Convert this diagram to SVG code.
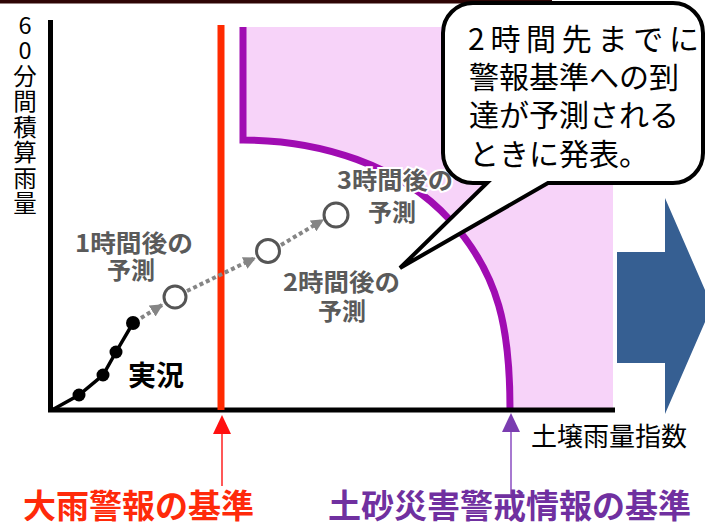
<svg xmlns="http://www.w3.org/2000/svg" width="705" height="522" viewBox="0 0 705 522">
<style>
text{font-family:"Noto Sans CJK JP","Noto Sans",sans-serif}
.gl{font-size:24px;font-weight:bold;fill:#5a5a5a}
.dot{stroke:#858585;stroke-width:4;stroke-dasharray:4 3;fill:none}
.oc{fill:#fff;stroke:#555;stroke-width:3}
.bd{fill:#000}
.co{font-size:30px;fill:#000}
</style>
<defs>
<marker id="ga" viewBox="0 0 10 10" refX="9" refY="5" markerWidth="3.2" markerHeight="3.2" orient="auto" markerUnits="strokeWidth"><path d="M0,0L10,5L0,10Z" fill="#858585"/></marker>
</defs>
<rect width="705" height="522" fill="#fff"/>
<rect x="0" y="0" width="552" height="3.5" fill="#2e0505"/>
<g id="pink-zone">
<path d="M243,27H613V408H510C510,330 500,275 450,220C400,165 320,140 243,140Z" fill="#f7d3f9"/>
<path d="M243,27V140C320,140 400,165 450,220C500,275 510,330 510,409" fill="none" stroke="#a00cb2" stroke-width="7"/>
</g>
<g id="axes">
<line x1="50.5" y1="20" x2="50.5" y2="412" stroke="#000" stroke-width="5"/>
<line x1="48" y1="410" x2="615" y2="410" stroke="#000" stroke-width="5"/>
</g>
<g id="heavy-rain-line">
<line x1="221" y1="25" x2="221" y2="410" stroke="#ff2a00" stroke-width="7"/>
</g>
<g id="y-label">
<text x="25" y="13" font-size="23.5" fill="#000" writing-mode="vertical-rl" letter-spacing="2" style="text-orientation:upright">60分間積算雨量</text>
</g>
<g id="observed">
<polyline points="52,410 79,395 103,375 116,352 133,323" fill="none" stroke="#000" stroke-width="3.5"/>
<circle class="bd" cx="79" cy="395" r="6.5"/>
<circle class="bd" cx="103" cy="375" r="6.5"/>
<circle class="bd" cx="116" cy="352" r="6.5"/>
<circle class="bd" cx="133" cy="323" r="7"/>
<text x="128" y="386" font-size="28" font-weight="bold" fill="#000">実況</text>
</g>
<g id="connectors">
<line class="dot" x1="141" y1="318" x2="162" y2="305" marker-end="url(#ga)"/>
<line class="dot" x1="187" y1="291" x2="255" y2="258" marker-end="url(#ga)"/>
<line class="dot" x1="281" y1="245" x2="323" y2="220" marker-end="url(#ga)"/>
</g>
<g id="forecast-1h">
<circle class="oc" cx="175" cy="297" r="11"/>
<text class="gl"><tspan x="75" y="252" textLength="118" lengthAdjust="spacingAndGlyphs">1時間後の</tspan><tspan x="107" y="279">予測</tspan></text>
</g>
<g id="forecast-2h">
<circle class="oc" cx="268" cy="251" r="11.5"/>
<text class="gl"><tspan x="283" y="291" textLength="117" lengthAdjust="spacingAndGlyphs">2時間後の</tspan><tspan x="318" y="320">予測</tspan></text>
</g>
<g id="forecast-3h">
<circle class="oc" cx="336" cy="215" r="12"/>
<text class="gl" stroke="#fff" stroke-width="4" paint-order="stroke"><tspan x="337" y="189" textLength="116" lengthAdjust="spacingAndGlyphs">3時間後の</tspan><tspan x="368" y="221">予測</tspan></text>
</g>
<g id="callout">
<path d="M473,3H673A30,30 0 0 1 703,33V153A30,30 0 0 1 673,183H548L400,268L487,183H473A30,30 0 0 1 443,153V33A30,30 0 0 1 473,3Z" fill="#fff" stroke="#000" stroke-width="4" stroke-linejoin="miter"/>
<text class="co"><tspan x="468" y="50" textLength="231" lengthAdjust="spacing">2時間先までに</tspan><tspan x="469" y="88">警報基準への到</tspan><tspan x="469" y="126">達が予測される</tspan><tspan x="469" y="165">ときに発表。</tspan></text>
</g>
<g id="big-arrow">
<path d="M617,252H665V198L712,306L665,414V363H617Z" fill="#365f92"/>
</g>
<g id="x-label">
<text x="531" y="446" font-size="26" fill="#000">土壌雨量指数</text>
</g>
<g id="heavy-rain-label">
<line x1="222" y1="430" x2="222" y2="486" stroke="#ff2020" stroke-width="1.5"/>
<path d="M222,415L231,434H213Z" fill="#ff1010"/>
<text x="23" y="518" font-size="33" font-weight="bold" fill="#ff2a0a">大雨警報の基準</text>
</g>
<g id="sediment-label">
<line x1="511" y1="428" x2="511" y2="494" stroke="#8a4cc0" stroke-width="1.5"/>
<path d="M511,413L520,432H502Z" fill="#7a3cb0"/>
<text x="328" y="518" font-size="33" font-weight="bold" fill="#7030a0">土砂災害警戒情報の基準</text>
</g>
</svg>
